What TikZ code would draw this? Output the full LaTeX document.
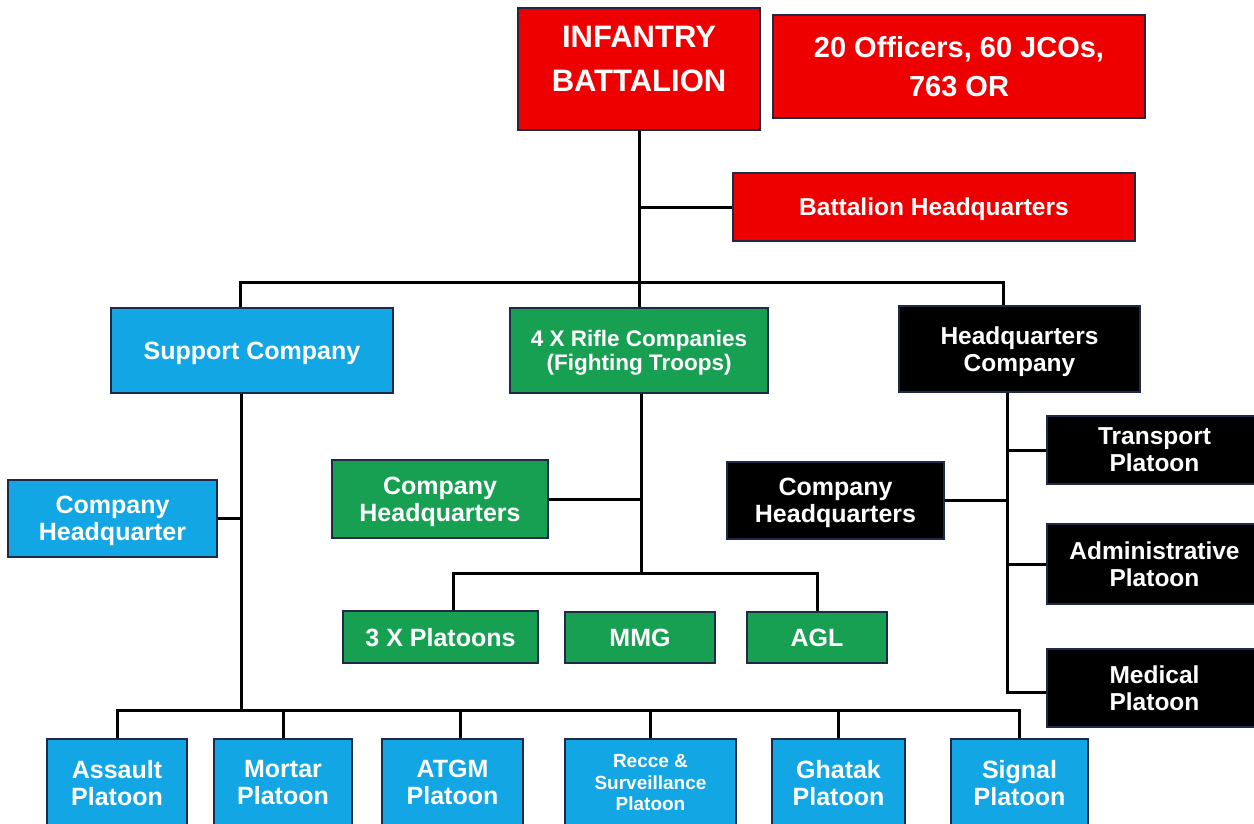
\documentclass[tikz,border=0pt]{standalone}
\usepackage{fontspec}
\setmainfont{Liberation Sans}
\usepackage{tikz}
\usetikzlibrary{positioning}

\definecolor{armyred}{RGB}{238,0,0}
\definecolor{armyblue}{RGB}{18,166,228}
\definecolor{armygreen}{RGB}{24,160,82}
\definecolor{armyblack}{RGB}{0,0,0}
\definecolor{edgeline}{RGB}{32,42,72}

\begin{document}
\begin{tikzpicture}[
  x=1pt, y=-1pt,
  unit/.style={draw=edgeline, line width=2pt, text=white, align=center, inner sep=0pt, text depth=0pt,
    font=\bfseries\fontsize{25}{27}\selectfont},
  redunit/.style={unit, fill=armyred},
  blueunit/.style={unit, fill=armyblue},
  greenunit/.style={unit, fill=armygreen},
  blackunit/.style={unit, fill=armyblack},
  platoon/.style={blueunit, minimum height=87pt},
  link/.style={line width=3pt, draw=black}
]
\useasboundingbox (0,0) rectangle (1254,823);

\node[redunit, minimum width=242pt, minimum height=122pt, text depth=20pt, font=\bfseries\fontsize{31}{44}\selectfont] (infantry) at (639,69) {INFANTRY\\BATTALION};
\node[redunit, minimum width=372pt, minimum height=103pt, font=\bfseries\fontsize{29}{39}\selectfont] (strength) at (959,66.5) {20 Officers, 60 JCOs,\\763 OR};
\node[redunit, minimum width=402pt, minimum height=68pt, font=\bfseries\fontsize{24.5}{27}\selectfont] (bnhq) at (934,207) {Battalion Headquarters};

\node[blueunit, minimum width=282pt, minimum height=85pt] (support) at (252,350.5) {Support Company};
\node[greenunit, minimum width=258pt, minimum height=85pt, font=\bfseries\fontsize{22.5}{24}\selectfont] (rifle) at (639,350.5) {4 X Rifle Companies\\(Fighting Troops)};
\node[blackunit, minimum width=241pt, minimum height=86pt, font=\bfseries\fontsize{24.5}{27}\selectfont] (hqcoy) at (1019.5,349) {Headquarters\\Company};

\node[blueunit, minimum width=209pt, minimum height=77pt] (supphq) at (112.5,518.5) {Company\\Headquarter};
\node[greenunit, minimum width=216pt, minimum height=78pt] (riflehq) at (440,499) {Company\\Headquarters};
\node[blackunit, minimum width=217pt, minimum height=77pt] (hqcoyhq) at (835.5,500.5) {Company\\Headquarters};

\node[blackunit, minimum width=215pt, minimum height=68pt, font=\bfseries\fontsize{24.5}{27}\selectfont] (transport) at (1154.5,450) {Transport\\Platoon};
\node[blackunit, minimum width=215pt, minimum height=80pt, font=\bfseries\fontsize{24.5}{27}\selectfont] (admin) at (1154.5,564) {Administrative\\Platoon};
\node[blackunit, minimum width=215pt, minimum height=78pt, font=\bfseries\fontsize{24.5}{27}\selectfont] (medical) at (1154.5,688) {Medical\\Platoon};

\node[greenunit, minimum width=195pt, minimum height=52pt] (platoons) at (440.5,637) {3 X Platoons};
\node[greenunit, minimum width=150pt, minimum height=51pt] (mmg) at (640,637.5) {MMG};
\node[greenunit, minimum width=140pt, minimum height=51pt] (agl) at (817,637.5) {AGL};

\node[platoon, minimum width=140pt] (assault) at (117,782.5) {Assault\\Platoon};
\node[platoon, minimum width=138pt] (mortar) at (283,782.5) {Mortar\\Platoon};
\node[platoon, minimum width=141pt] (atgm) at (452.5,782.5) {ATGM\\Platoon};
\node[platoon, minimum width=171pt, font=\bfseries\fontsize{19}{21.5}\selectfont] (recce) at (650.5,782.5) {Recce \&\\Surveillance\\Platoon};
\node[platoon, minimum width=133pt] (ghatak) at (838.5,782.5) {Ghatak\\Platoon};
\node[platoon, minimum width=137pt] (signal) at (1019.5,782.5) {Signal\\Platoon};

\coordinate (busleft) at (240,282);
\coordinate (busright) at (1003,282);
\coordinate (supbus) at (241,710);
\coordinate (riflebus) at (641,573);
\coordinate (platoonsdrop) at (453,573);
\coordinate (hqbus) at (1007,692);
\coordinate (atgmdrop) at (460,710);

\draw[link] (infantry) -- (rifle);
\draw[link] (infantry.south |- bnhq.west) -- (bnhq.west);
\draw[link] (busleft |- support.north) -- (busleft) -- (busright) -- (busright |- hqcoy.north);

\draw[link] (supbus |- support.south) -- (supbus);
\draw[link] (supbus |- supphq.east) -- (supphq.east);
\draw[link] (assault.north) -- (assault.north |- supbus) -- (signal.north |- supbus) -- (signal.north);
\draw[link] (mortar.north) -- (mortar.north |- supbus);
\draw[link] (atgmdrop |- atgm.north) -- (atgmdrop);
\draw[link] (recce.north) -- (recce.north |- supbus);
\draw[link] (ghatak.north) -- (ghatak.north |- supbus);

\draw[link] (riflebus |- rifle.south) -- (riflebus);
\draw[link] (riflebus |- riflehq.east) -- (riflehq.east);
\draw[link] (platoonsdrop |- platoons.north) -- (platoonsdrop) -- (agl.north |- riflebus) -- (agl.north);

\draw[link] (hqbus |- hqcoy.south) -- (hqbus) -- (medical.west |- hqbus);
\draw[link] (hqbus |- transport.west) -- (transport.west);
\draw[link] (hqbus |- admin.west) -- (admin.west);
\draw[link] (hqbus |- hqcoyhq.east) -- (hqcoyhq.east);
\end{tikzpicture}
\end{document}
